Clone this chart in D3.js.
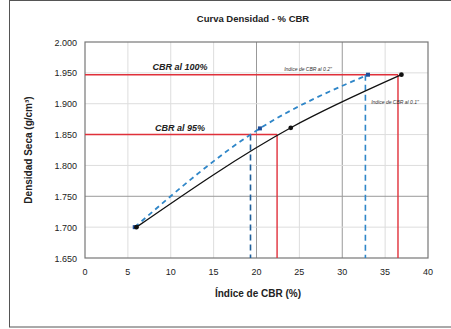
<!DOCTYPE html>
<html>
<head>
<meta charset="utf-8">
<script src="https://cdn.jsdelivr.net/npm/d3@7"></script>
<style>
  body { margin: 0; background: #fff; }
  text { font-family: "Liberation Sans", Arial, sans-serif; }
</style>
</head>
<body>
<script>
// data
var cbr01 = [6.0, 24.0, 36.9];          // black solid curve (0.1")
var dens01 = [1.700, 1.861, 1.947];
var cbr02 = [5.8, 20.4, 33.0];          // blue dashed curve (0.2")
var dens02 = [1.700, 1.860, 1.947];
var densMax = 1.947, dens95 = 1.850;
var redX = [22.4, 36.5];                // red verticals (0.1")
var blueX = [19.3, 32.7];               // blue dashed verticals (0.2")
var xTicks = [0, 5, 10, 15, 20, 25, 30, 35, 40];
var yTicks = [1.650, 1.700, 1.750, 1.800, 1.850, 1.900, 1.950, 2.000];

var W = 451, H = 329;
var m = { left: 85, right: 428, top: 42, bottom: 258 };

var svg = d3.select("body").append("svg")
  .attr("width", W).attr("height", H);

// outer frame
svg.append("rect")
  .attr("x", 9.5).attr("y", 0.5).attr("width", 460).attr("height", 326.5)
  .attr("fill", "none").attr("stroke", "#555").attr("stroke-width", 1);

var x = d3.scaleLinear().domain([0, 40]).range([m.left, m.right]);
var y = d3.scaleLinear().domain([1.650, 2.000]).range([m.bottom, m.top]);

// grid
svg.append("g").selectAll("line").data(xTicks.slice(1, -1)).join("line")
  .attr("x1", d => x(d)).attr("x2", d => x(d))
  .attr("y1", m.top).attr("y2", m.bottom)
  .attr("stroke", d => (d == 20 || d == 30) ? "#999" : "#ddd").attr("stroke-width", 1);
svg.append("g").selectAll("line").data(yTicks.slice(1, -1)).join("line")
  .attr("x1", m.left).attr("x2", m.right)
  .attr("y1", d => y(d)).attr("y2", d => y(d))
  .attr("stroke", d => Math.abs(d - 1.75) < 1e-6 ? "#999" : "#ddd").attr("stroke-width", 1);

// plot border
svg.append("rect")
  .attr("x", m.left).attr("y", m.top)
  .attr("width", m.right - m.left).attr("height", m.bottom - m.top)
  .attr("fill", "none").attr("stroke", "#777").attr("stroke-width", 1.2);

// axes labels
svg.append("g").selectAll("text").data(yTicks).join("text")
  .attr("x", m.left - 8).attr("y", d => y(d) + 3.5)
  .attr("text-anchor", "end").attr("font-size", 9).attr("fill", "#222")
  .text(d => d3.format(".3f")(d));
svg.append("g").selectAll("text").data(xTicks).join("text")
  .attr("x", d => x(d)).attr("y", m.bottom + 17)
  .attr("text-anchor", "middle").attr("font-size", 9).attr("fill", "#222")
  .text(d => d);

// red reference lines
var red = "#e0303a";
svg.append("line").attr("x1", x(0)).attr("x2", x(redX[1]))
  .attr("y1", y(densMax)).attr("y2", y(densMax))
  .attr("stroke", red).attr("stroke-width", 1.4);
svg.append("line").attr("x1", x(0)).attr("x2", x(redX[0]))
  .attr("y1", y(dens95)).attr("y2", y(dens95))
  .attr("stroke", red).attr("stroke-width", 1.4);
svg.append("line").attr("x1", x(redX[0])).attr("x2", x(redX[0]))
  .attr("y1", y(dens95)).attr("y2", m.bottom)
  .attr("stroke", red).attr("stroke-width", 1.4);
svg.append("line").attr("x1", x(redX[1])).attr("x2", x(redX[1]))
  .attr("y1", y(densMax)).attr("y2", m.bottom)
  .attr("stroke", red).attr("stroke-width", 1.4);

// blue dashed verticals
var blue = "#2f86c8";
svg.append("line").attr("x1", x(blueX[0])).attr("x2", x(blueX[0]))
  .attr("y1", y(dens95)).attr("y2", m.bottom)
  .attr("stroke", "#1f5f9a").attr("stroke-width", 1.6).attr("stroke-dasharray", "6,4");
svg.append("line").attr("x1", x(blueX[1])).attr("x2", x(blueX[1]))
  .attr("y1", y(densMax)).attr("y2", m.bottom)
  .attr("stroke", blue).attr("stroke-width", 1.6).attr("stroke-dasharray", "6,4");

// curves
var line = d3.line().x(d => x(d[0])).y(d => y(d[1])).curve(d3.curveMonotoneX);
var pts02 = d3.zip(cbr02, dens02);
var pts01 = d3.zip(cbr01, dens01);

svg.append("path").attr("d", line(pts02))
  .attr("fill", "none").attr("stroke", blue).attr("stroke-width", 1.8)
  .attr("stroke-dasharray", "5,4");
svg.append("path").attr("d", line(pts01))
  .attr("fill", "none").attr("stroke", "#111").attr("stroke-width", 1.3);

svg.append("g").selectAll("rect").data(pts02).join("rect")
  .attr("x", d => x(d[0]) - 2).attr("y", d => y(d[1]) - 2)
  .attr("width", 4).attr("height", 4).attr("fill", "#1f4f9a");
svg.append("g").selectAll("circle").data(pts01).join("circle")
  .attr("cx", d => x(d[0])).attr("cy", d => y(d[1])).attr("r", 2.4)
  .attr("fill", "#111");

// annotations
svg.append("text").attr("x", 180).attr("y", 70)
  .attr("text-anchor", "middle").attr("font-size", 9)
  .attr("font-weight", "bold").attr("font-style", "italic").attr("fill", "#222")
  .text("CBR al 100%");
svg.append("text").attr("x", 180).attr("y", 131)
  .attr("text-anchor", "middle").attr("font-size", 9)
  .attr("font-weight", "bold").attr("font-style", "italic").attr("fill", "#222")
  .text("CBR al 95%");
svg.append("text").attr("x", 308).attr("y", 71)
  .attr("text-anchor", "middle").attr("font-size", 5).attr("font-style", "italic").attr("fill", "#333")
  .text("Indice de CBR al 0.2\"");
svg.append("text").attr("x", 395).attr("y", 104)
  .attr("text-anchor", "middle").attr("font-size", 5).attr("font-style", "italic").attr("fill", "#333")
  .text("Indice de CBR al 0.1\"");

// titles
svg.append("text").attr("x", 253).attr("y", 22)
  .attr("text-anchor", "middle").attr("font-size", 9.5).attr("font-weight", "bold").attr("fill", "#222")
  .text("Curva Densidad - % CBR");
svg.append("text").attr("x", 258).attr("y", 297)
  .attr("text-anchor", "middle").attr("font-size", 10).attr("font-weight", "bold").attr("fill", "#222")
  .text("Índice de CBR (%)");
svg.append("text")
  .attr("transform", "translate(32,150) rotate(-90)")
  .attr("text-anchor", "middle").attr("font-size", 10).attr("font-weight", "bold").attr("fill", "#222")
  .text("Densidad Seca (g/cm³)");
</script>
</body>
</html>
